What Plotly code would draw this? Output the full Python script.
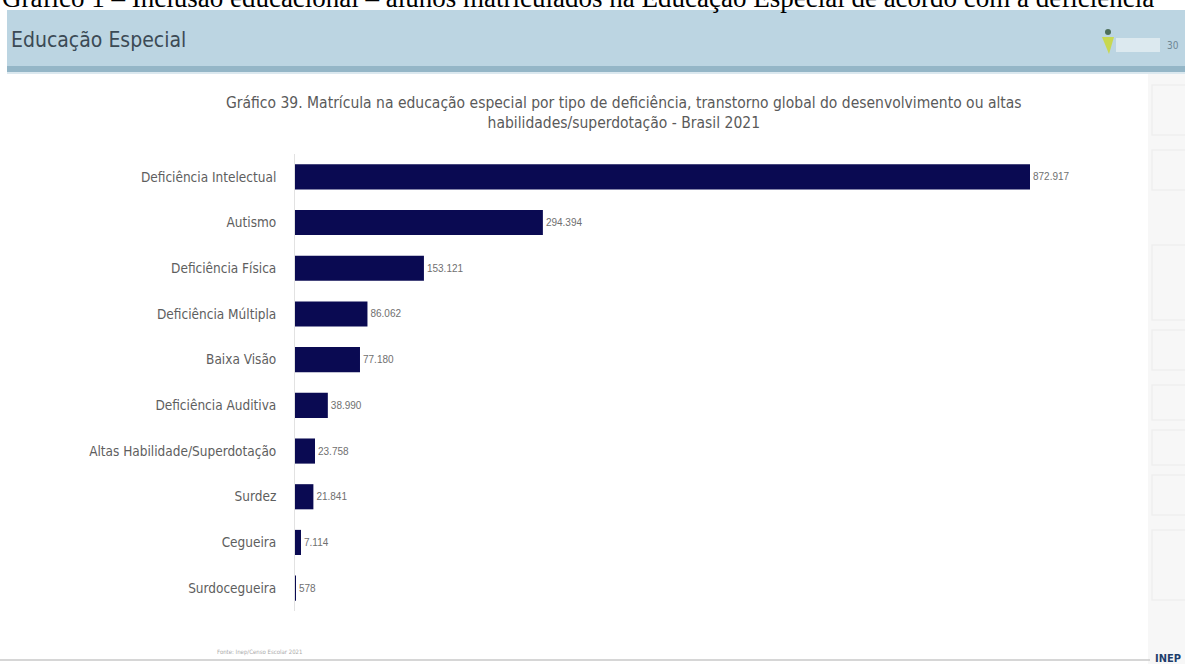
import plotly.graph_objects as go

W, H = 1185, 664

# Matrículas na educação especial por tipo - Brasil 2021
categorias = [
    "Deficiência Intelectual",
    "Autismo",
    "Deficiência Física",
    "Deficiência Múltipla",
    "Baixa Visão",
    "Deficiência Auditiva",
    "Altas Habilidade/Superdotação",
    "Surdez",
    "Cegueira",
    "Surdocegueira",
]
matriculas = [872917, 294394, 153121, 86062, 77180, 38990, 23758, 21841, 7114, 578]
rotulos = ["872.917", "294.394", "153.121", "86.062", "77.180",
           "38.990", "23.758", "21.841", "7.114", "578"]

NARROW = "Liberation Sans Narrow, DejaVu Sans Condensed, Arial Narrow, sans-serif"


def px(x):
    return x / W


def py(y):
    # pixel row (from top) to paper fraction (from bottom)
    return 1 - y / H


fig = go.Figure(
    go.Bar(
        x=matriculas,
        y=categorias,
        orientation="h",
        marker=dict(color="#0a0a52", line=dict(width=0)),
        width=0.55,
        text=rotulos,
        textposition="outside",
        textfont=dict(family="Liberation Sans, Arial, sans-serif", size=10, color="#707070"),
        cliponaxis=False,
        hoverinfo="skip",
    )
)

x_max = 960000
x0_px, bar_end_px = 295, 1030
x1_px = x0_px + (bar_end_px - x0_px) * x_max / matriculas[0]

fig.update_layout(
    width=W,
    height=H,
    margin=dict(l=0, r=0, t=0, b=0),
    paper_bgcolor="white",
    plot_bgcolor="white",
    showlegend=False,
    xaxis=dict(
        domain=[px(x0_px), px(x1_px)],
        range=[0, x_max],
        visible=False,
        fixedrange=True,
    ),
    yaxis=dict(
        domain=[py(611), py(154)],
        autorange="reversed",
        showline=True,
        linecolor="#e2e2e2",
        linewidth=1,
        showgrid=False,
        ticks="",
        ticklabelstandoff=15,
        tickfont=dict(family=NARROW, size=13.5, color="#5e5e5e"),
        fixedrange=True,
    ),
)

shapes = []
# faint background panels on the right edge
shapes.append(dict(type="rect", xref="paper", yref="paper",
                   x0=px(1148), x1=1, y0=py(664), y1=py(72),
                   fillcolor="#f7f7f7", line=dict(width=0), layer="below"))
for top, bot in [(85, 135), (150, 190), (245, 320), (330, 370), (385, 420),
                 (430, 465), (475, 515), (530, 600)]:
    shapes.append(dict(type="rect", xref="paper", yref="paper",
                       x0=px(1152), x1=px(1190), y0=py(bot), y1=py(top),
                       fillcolor="rgba(0,0,0,0)", line=dict(color="#efefef", width=1.5),
                       layer="below"))
# header band
shapes.append(dict(type="rect", xref="paper", yref="paper",
                   x0=px(7), x1=1, y0=py(68), y1=py(10),
                   fillcolor="#bcd5e2", line=dict(width=0)))
shapes.append(dict(type="rect", xref="paper", yref="paper",
                   x0=px(7), x1=1, y0=py(72), y1=py(66),
                   fillcolor="#94b6c7", line=dict(width=0)))
shapes.append(dict(type="rect", xref="paper", yref="paper",
                   x0=px(7), x1=1, y0=py(74), y1=py(72),
                   fillcolor="#dbe8ef", line=dict(width=0)))
# small header logo
shapes.append(dict(type="circle", xref="paper", yref="paper",
                   x0=px(1105), x1=px(1111), y0=py(35), y1=py(29),
                   fillcolor="#4f6f5a", line=dict(width=0)))
shapes.append(dict(type="path", xref="paper", yref="paper",
                   path=f"M {px(1102)},{py(37)} L {px(1114)},{py(37)} L {px(1109)},{py(54)} Z",
                   fillcolor="#c8d850", line=dict(width=0)))
shapes.append(dict(type="rect", xref="paper", yref="paper",
                   x0=px(1116), x1=px(1160), y0=py(52), y1=py(38),
                   fillcolor="#e4eef3", line=dict(width=0), opacity=0.8))
# footer rule
shapes.append(dict(type="line", xref="paper", yref="paper",
                   x0=0, x1=px(1150), y0=py(660), y1=py(660),
                   line=dict(color="#c9c9c9", width=1.5)))

annotations = [
    dict(text="Gráfico 1 – Inclusão educacional – alunos matriculados na Educação Especial de acordo com a deficiência",
         xref="paper", yref="paper", x=0, y=py(15), xanchor="left", yanchor="bottom",
         showarrow=False, font=dict(family="Liberation Serif, Times New Roman, serif", size=27, color="#000000")),
    dict(text="Educação Especial",
         xref="paper", yref="paper", x=px(9), y=py(40), xanchor="left", yanchor="middle",
         showarrow=False, font=dict(family=NARROW, size=21, color="#3b4a55")),
    dict(text="30",
         xref="paper", yref="paper", x=px(1181), y=py(46), xanchor="right", yanchor="middle",
         showarrow=False, font=dict(family=NARROW, size=10, color="#6f8794")),
    dict(text="Gráfico 39. Matrícula na educação especial por tipo de deficiência, transtorno global do desenvolvimento ou altas<br>habilidades/superdotação - Brasil 2021",
         xref="paper", yref="paper", x=px(624), y=py(113), xanchor="center", yanchor="middle",
         showarrow=False, align="center",
         font=dict(family=NARROW, size=15.5, color="#5a5a5a")),
    dict(text="Fonte: Inep/Censo Escolar 2021",
         xref="paper", yref="paper", x=px(215), y=py(652), xanchor="left", yanchor="middle",
         showarrow=False, font=dict(family=NARROW, size=6, color="#aaaaaa")),
    dict(text="<b>INEP</b>",
         xref="paper", yref="paper", x=px(1183), y=py(658), xanchor="right", yanchor="middle",
         showarrow=False, font=dict(family=NARROW, size=11, color="#1e3d6b")),
]

fig.update_layout(shapes=shapes, annotations=annotations)

fig.write_html("out.html")
